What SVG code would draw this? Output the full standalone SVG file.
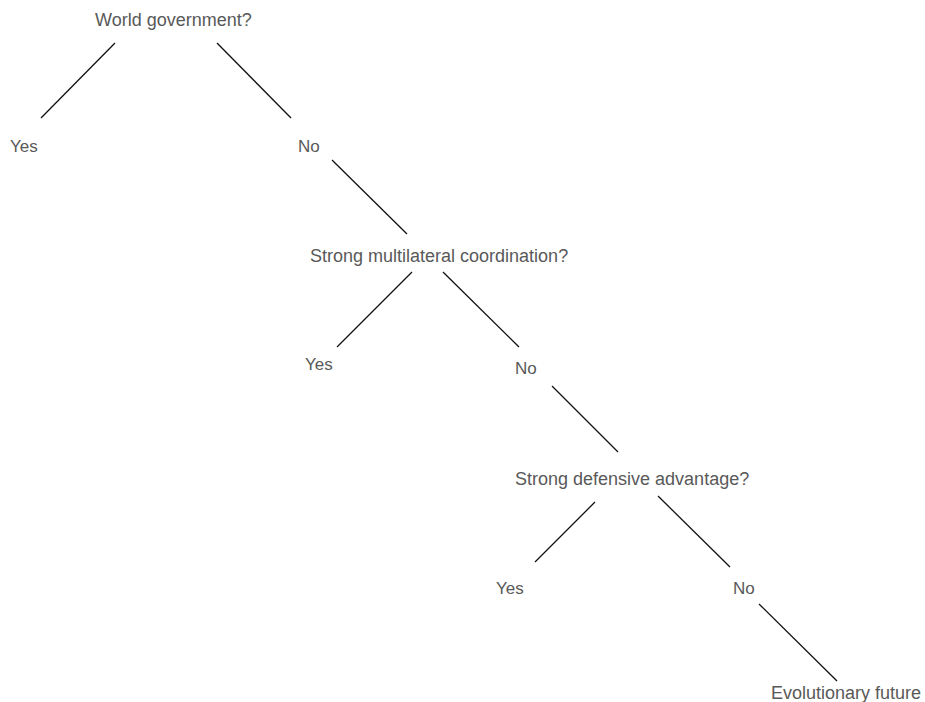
<svg xmlns="http://www.w3.org/2000/svg" width="925" height="702" viewBox="0 0 925 702">
<style>
.t{font-family:"Liberation Sans",Arial,Helvetica,sans-serif;fill:#595959}
.q{font-size:18px}
.a{font-size:17px}
.c line{stroke:#111;stroke-width:1.3;fill:none}
</style>
<rect width="925" height="702" fill="#fff"/>
<g class="c" id="connectors">
<line x1="115" y1="43" x2="41" y2="118"/>
<line x1="217" y1="43" x2="291" y2="118"/>
<line x1="332" y1="160" x2="407" y2="234"/>
<line x1="412" y1="272" x2="337" y2="347"/>
<line x1="443" y1="272" x2="519" y2="347"/>
<line x1="552" y1="386" x2="618" y2="452"/>
<line x1="595" y1="502" x2="535" y2="562"/>
<line x1="658" y1="496" x2="730" y2="567"/>
<line x1="759" y1="604" x2="837" y2="681"/>
</g>
<g id="q1"><text class="t q" x="95" y="26">World government?</text></g>
<g id="y1"><text class="t a" x="10" y="152">Yes</text></g>
<g id="n1"><text class="t a" x="298" y="152">No</text></g>
<g id="q2"><text class="t q" x="310" y="262">Strong multilateral coordination?</text></g>
<g id="y2"><text class="t a" x="305" y="370">Yes</text></g>
<g id="n2"><text class="t a" x="515" y="374">No</text></g>
<g id="q3"><text class="t q" x="515" y="485">Strong defensive advantage?</text></g>
<g id="y3"><text class="t a" x="496" y="594">Yes</text></g>
<g id="n3"><text class="t a" x="733" y="594">No</text></g>
<g id="leaf"><text class="t q" x="771" y="699">Evolutionary future</text></g>
</svg>
